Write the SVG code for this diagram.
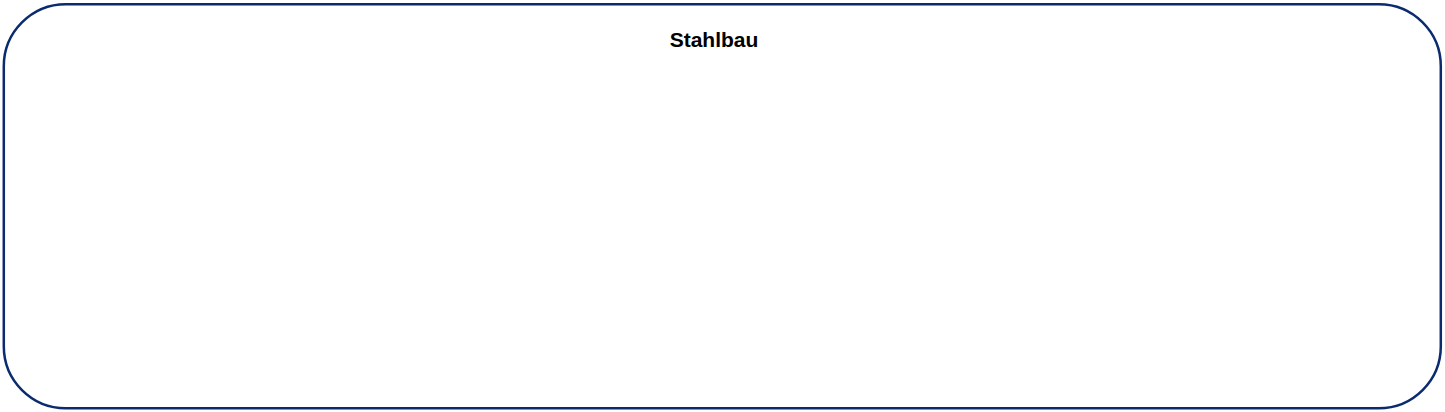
<svg xmlns="http://www.w3.org/2000/svg" width="1445" height="412" viewBox="0 0 1445 412">
<style>
.frame{fill:#ffffff;stroke:#0b2b6f;stroke-width:2.5}
.title{font-family:"Liberation Sans",Arial,sans-serif;font-weight:bold;font-size:21px;fill:#000000}
</style>
<rect width="1445" height="412" fill="#ffffff"/>
<g id="stahlbau">
<rect class="frame" x="3.8" y="4.3" width="1437" height="404" rx="62" ry="62"/>
<text class="title" x="714" y="47" text-anchor="middle">Stahlbau</text>
</g>
<g id="connectors"></g>
</svg>
